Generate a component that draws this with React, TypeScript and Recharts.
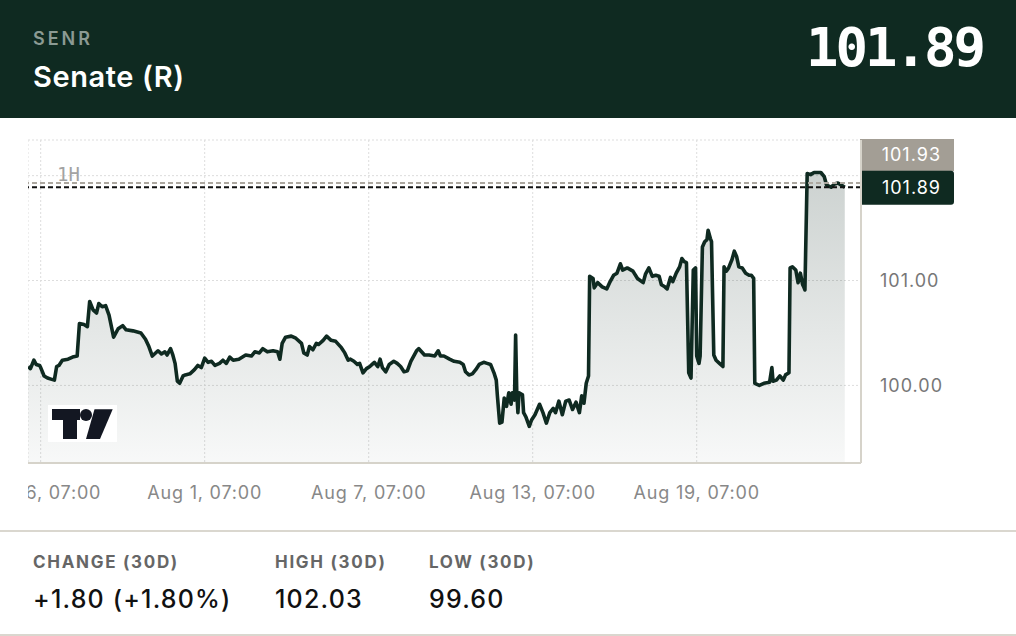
import React from 'react';
import { ComposedChart, Area, XAxis, YAxis, CartesianGrid, ReferenceLine } from 'recharts';

// ---- data (hours relative to Jul 26, 07:00; hourly bars) ----
const hours = [
  -11, -9, -6, -4, -1, 0, 3, 6, 9, 12, 14, 16, 19, 24, 28, 32, 34, 38, 41, 43,
  46, 49, 51, 54, 57, 60, 64, 68, 72, 75, 81, 88, 92, 95, 98, 103, 106, 109, 111, 114,
  116, 118, 120, 122, 125, 127, 131, 135, 138, 141, 144, 147, 150, 153, 157, 160, 163, 166, 169, 174,
  180, 185, 188, 192, 195, 199, 204, 208, 210, 212, 215, 220, 224, 229, 231, 234, 236, 239, 242, 244,
  248, 251, 255, 259, 264, 267, 270, 272, 275, 278, 280, 283, 286, 289, 291, 293, 296, 298, 300, 303,
  306, 310, 313, 316, 319, 322, 325, 330, 332, 337, 341, 346, 349, 351, 354, 359, 363, 368, 371, 373,
  376, 379, 382, 385, 389, 392, 395, 398, 400, 401, 403, 405, 407, 409, 411, 413, 414, 416, 417, 418,
  419, 420, 423, 424, 426, 429, 431, 434, 438, 441, 444, 447, 450, 452, 455, 458, 461, 464, 467, 470,
  473, 475, 477, 479, 481, 482, 485, 486, 489, 493, 497, 500, 503, 506, 509, 511, 515, 520, 524, 529,
  531, 534, 537, 540, 543, 545, 548, 550, 553, 555, 558, 561, 563, 565, 567, 569, 571, 573, 575, 576,
  578, 579, 581, 583, 585, 586, 588, 589, 591, 593, 596, 599, 600, 602, 604, 607, 609, 611, 613, 616,
  619, 622, 624, 626, 627, 631, 635, 640, 642, 643, 646, 649, 652, 654, 657, 658, 660, 663, 665, 667,
  669, 670, 671, 673, 676, 679, 682, 685, 688, 690, 694, 697, 700, 703, 706,
];
const prices = [
  100.18, 100.16, 100.24, 100.2, 100.19, 100.17, 100.09, 100.07, 100.06, 100.05, 100.18, 100.19, 100.24, 100.25, 100.27, 100.28, 100.59, 100.58, 100.56, 100.8,
  100.72, 100.69, 100.78, 100.75, 100.76, 100.67, 100.46, 100.54, 100.57, 100.53, 100.52, 100.5, 100.44, 100.37, 100.28, 100.33, 100.3, 100.32, 100.29, 100.35,
  100.29, 100.21, 100.04, 100.02, 100.09, 100.1, 100.11, 100.15, 100.19, 100.17, 100.26, 100.22, 100.23, 100.19, 100.21, 100.24, 100.21, 100.27, 100.24, 100.25,
  100.29, 100.28, 100.32, 100.31, 100.35, 100.32, 100.33, 100.32, 100.25, 100.4, 100.46, 100.47, 100.45, 100.4, 100.31, 100.29, 100.37, 100.34, 100.4, 100.39,
  100.43, 100.47, 100.43, 100.42, 100.36, 100.31, 100.24, 100.25, 100.23, 100.2, 100.21, 100.12, 100.16, 100.18, 100.2, 100.22, 100.18, 100.25, 100.17, 100.13,
  100.2, 100.23, 100.21, 100.18, 100.13, 100.14, 100.23, 100.33, 100.35, 100.29, 100.29, 100.28, 100.33, 100.28, 100.28, 100.25, 100.23, 100.22, 100.2, 100.13,
  100.1, 100.11, 100.15, 100.2, 100.22, 100.21, 100.2, 100.12, 100.05, 99.9, 99.64, 99.65, 99.88, 99.8, 99.93, 99.82, 99.93, 99.86, 100.48, 99.93,
  99.74, 99.93, 99.91, 99.74, 99.7, 99.61, 99.67, 99.72, 99.82, 99.74, 99.64, 99.74, 99.78, 99.74, 99.85, 99.72, 99.85, 99.86, 99.77, 99.84,
  99.74, 99.9, 99.83, 100.02, 100.09, 101.04, 101.02, 100.93, 100.98, 100.94, 100.92, 100.99, 101.05, 101.07, 101.16, 101.1, 101.12, 101.09, 101.02, 100.98,
  101.06, 101.12, 101.04, 101.05, 101.04, 100.96, 100.94, 100.92, 101.03, 100.99, 101.07, 101.13, 101.21, 101.18, 101.17, 100.12, 100.07, 101.1, 101.12, 100.28,
  100.21, 100.28, 101.32, 101.37, 101.39, 101.48, 101.4, 101.37, 100.29, 100.24, 100.21, 100.18, 101.13, 101.09, 101.12, 101.2, 101.28, 101.23, 101.13, 101.12,
  101.07, 101.05, 101.05, 101.02, 100.02, 100.0, 100.02, 100.03, 100.17, 100.04, 100.05, 100.09, 100.05, 100.1, 100.12, 101.12, 101.13, 101.1, 100.98, 101.07,
  100.96, 100.94, 100.91, 102.02, 102.01, 102.03, 102.03, 102.03, 101.99, 101.91, 101.89, 101.92, 101.93, 101.91, 101.89,
];
const xTicks = [0, 144, 288, 432, 576];
const xTickLabels = ['Jul 26, 07:00', 'Aug 1, 07:00', 'Aug 7, 07:00', 'Aug 13, 07:00', 'Aug 19, 07:00'];
const yTicks = [100, 101, 102];
const xDomain = [-11.15, 720.25];
const yDomain = [99.26, 102.34];
const lastPrice = 101.89;
const markPrice = 101.93;
const symbol = 'SENR';
const title = 'Senate (R)';
const interval = '1H';
const statLabels = ['CHANGE (30D)', 'HIGH (30D)', 'LOW (30D)'];
const statValues = ['+1.80 (+1.80%)', '102.03', '99.60'];

const data = hours.map((t, i) => ({ t, v: prices[i] }));

const DARK = '#0f2a21';
const SANS = 'Inter, "Noto Sans", sans-serif';
const MONO = '"DejaVu Sans Mono", monospace';

const YTick = (props: any) => {
  const { x, y, payload } = props;
  if (payload.value === 102) return <g />;
  return (
    <text x={x} y={y} dy="0.36em" textAnchor="start" fill="#777" fontSize={18} letterSpacing={1} fontFamily={SANS}>
      {Number(payload.value).toFixed(2)}
    </text>
  );
};

const makeTag = (bg: string, text: string, top: number, height: number, rounded: boolean) => (props: any) => {
  const vb = props.viewBox || {};
  const x0 = vb.x + vb.width - 1;
  const y0 = vb.y + top;
  const w = 94;
  const r = rounded ? 3 : 0;
  const d = `M${x0},${y0} H${x0 + w - r} Q${x0 + w},${y0} ${x0 + w},${y0 + r} V${y0 + height - r} Q${x0 + w},${y0 + height} ${x0 + w - r},${y0 + height} H${x0} Z`;
  return (
    <g>
      <path d={d} fill={bg} />
      <text x={x0 + 81} y={y0 + height / 2} dy="0.36em" textAnchor="end" fill="#fff" fontSize={18} letterSpacing={1} fontFamily={SANS}>
        {text}
      </text>
    </g>
  );
};

export default function App() {
  return (
    <div style={{ position: 'absolute', left: 0, top: 0, width: 1016, height: 636, background: '#fff', overflow: 'hidden', fontFamily: SANS }}>
      <div style={{ position: 'absolute', left: 0, top: 0, width: 1016, height: 118, background: DARK }}>
        <div style={{ position: 'absolute', left: 33, top: 30, fontSize: 18, lineHeight: '18px', fontWeight: 600, letterSpacing: 3, color: '#8b9a93' }}>{symbol}</div>
        <div style={{ position: 'absolute', left: 33, top: 62, fontSize: 29, lineHeight: '29px', fontWeight: 600, letterSpacing: 0.6, color: '#fff' }}>{title}</div>
        <div style={{ position: 'absolute', left: 806, top: 21, fontSize: 54, lineHeight: '54px', fontWeight: 700, letterSpacing: -3, color: '#fff', fontFamily: MONO }}>{lastPrice.toFixed(2)}</div>
      </div>

      <div style={{ position: 'absolute', left: 28, top: 130 }}>
        <ComposedChart width={988} height={390} data={data} margin={{ top: 10, right: 55, bottom: 17, left: 0 }}>
          <defs>
            <linearGradient id="fillGrad" x1="0" y1="0" x2="0" y2="1">
              <stop offset="0%" stopColor="#0f2a21" stopOpacity={0.21} />
              <stop offset="100%" stopColor="#0f2a21" stopOpacity={0.03} />
            </linearGradient>
          </defs>
          <CartesianGrid stroke="#dddddd" strokeDasharray="2 2" />
          <XAxis
            dataKey="t"
            type="number"
            domain={xDomain}
            ticks={xTicks}
            allowDataOverflow
            tickFormatter={(v: number) => xTickLabels[xTicks.indexOf(v)] ?? ''}
            axisLine={{ stroke: '#d6d3ca', strokeWidth: 2 }}
            tickLine={false}
            tickSize={0}
            tickMargin={23}
            height={40}
            interval={0}
            tick={{ fill: '#888', fontSize: 18, fontFamily: SANS, letterSpacing: 0.8 }}
          />
          <YAxis
            orientation="right"
            type="number"
            domain={yDomain}
            ticks={yTicks}
            allowDataOverflow
            width={100}
            axisLine={{ stroke: '#d6d3ca', strokeWidth: 2 }}
            tickLine={false}
            tickSize={0}
            tickMargin={19}
            tick={YTick}
          />
          <Area
            type="linear"
            dataKey="v"
            stroke={DARK}
            strokeWidth={3.6}
            strokeLinejoin="round"
            fill="url(#fillGrad)"
            fillOpacity={1}
            isAnimationActive={false}
            dot={false}
            activeDot={false}
          />
          <ReferenceLine y={markPrice} stroke="#aca79f" strokeWidth={2} strokeDasharray="5 3" label={makeTag('#a39e95', markPrice.toFixed(2), -44, 32, false)} />
          <ReferenceLine y={lastPrice} stroke="#111" strokeWidth={2} strokeDasharray="5 3" label={makeTag(DARK, lastPrice.toFixed(2), -16.5, 34, true)} />
        </ComposedChart>
      </div>

      <div style={{ position: 'absolute', left: 57, top: 164.5, fontSize: 19, lineHeight: '19px', color: '#a3a3a3', fontFamily: MONO }}>{interval}</div>

      <svg style={{ position: 'absolute', left: 48, top: 405 }} width={70} height={38}>
        <rect x={0} y={0} width={69} height={37} fill="#fff" />
        <rect x={4} y={4} width={28} height={11} fill="#131722" />
        <rect x={15} y={4} width={14} height={30} fill="#131722" />
        <circle cx={38} cy={10} r={6} fill="#131722" />
        <polygon points="46.5,4.3 64.7,4.3 52,34 38,34" fill="#131722" />
      </svg>

      <div style={{ position: 'absolute', left: 0, top: 530, width: 1016, height: 2, background: '#dad7cf' }} />
      {statLabels.map((lab, i) => (
        <div key={lab} style={{ position: 'absolute', left: [33, 275, 429][i], top: 553.5 }}>
          <div style={{ whiteSpace: 'nowrap', fontSize: 17, lineHeight: '17px', fontWeight: 700, letterSpacing: 1.7, color: '#666' }}>{lab}</div>
          <div style={{ position: 'absolute', top: 33, left: 0, whiteSpace: 'nowrap', fontSize: 25, lineHeight: '25px', fontWeight: 500, letterSpacing: 1.2, color: '#111' }}>{statValues[i]}</div>
        </div>
      ))}
      <div style={{ position: 'absolute', left: 0, top: 634, width: 1016, height: 2, background: '#dad7cf' }} />
    </div>
  );
}
